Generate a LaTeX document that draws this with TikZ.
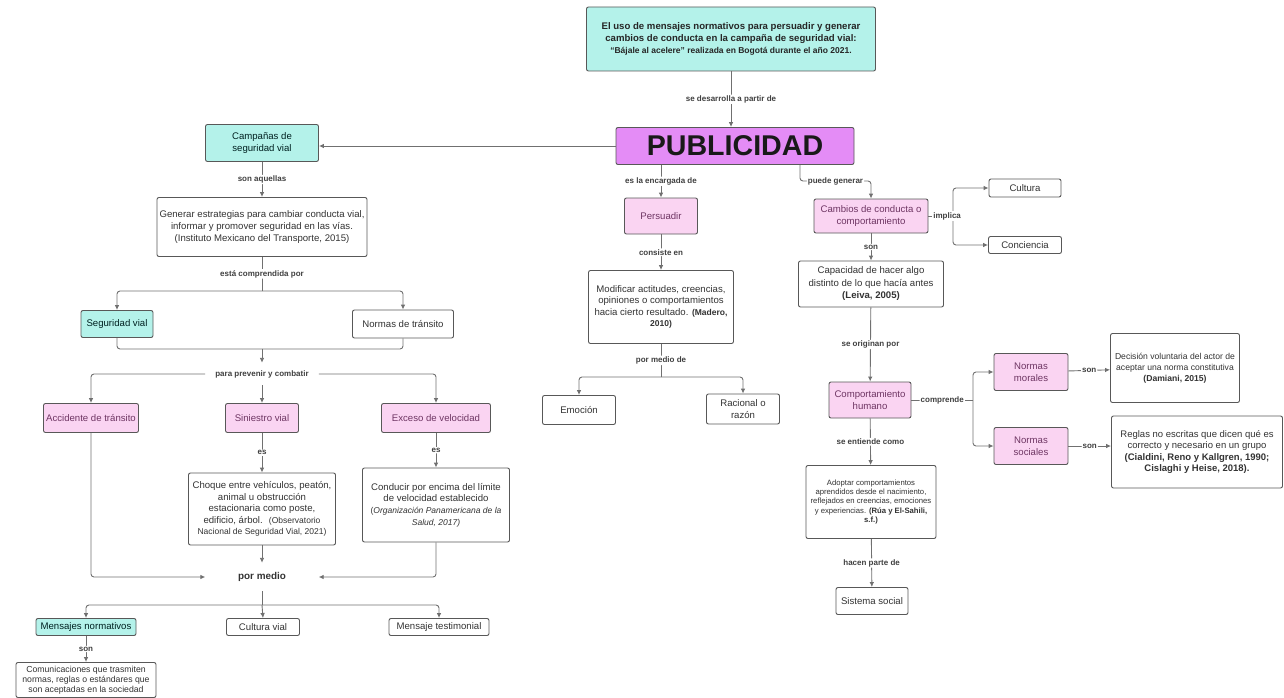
\documentclass[tikz,border=0pt]{standalone}
\usepackage{fontspec}
\setmainfont{Liberation Sans}
\usetikzlibrary{arrows.meta,positioning,calc}
\definecolor{cian}{HTML}{B4F2EA}
\definecolor{rosa}{HTML}{FAD4F2}
\definecolor{lila}{HTML}{E48CF6}
\definecolor{borde}{HTML}{585858}
\definecolor{gris}{HTML}{707070}
\definecolor{texto}{HTML}{333333}
\definecolor{textorosa}{HTML}{6E3563}
\tikzset{
  caja/.style={draw=borde, line width=0.9pt, rounded corners=2pt, fill=white, align=center,
    text=texto, inner sep=2pt, font=\fontsize{9.6}{11.6}\selectfont},
  cajac/.style={caja, fill=cian, text=black!75!teal},
  cajar/.style={caja, fill=rosa, text=textorosa},
  etiq/.style={fill=white, inner sep=1pt, text=black!75, font=\bfseries\fontsize{8}{9}\selectfont},
  flecha/.style={draw=gris, line width=0.9pt, rounded corners=3pt, -{Latex[length=5pt,width=4.6pt]}},
  tramo/.style={draw=gris, line width=0.9pt, rounded corners=3pt}
}
\newcommand{\chico}{\fontsize{8.5}{11.3}\selectfont}

\begin{document}
\begin{tikzpicture}[x=1pt,y=-1pt]
  \useasboundingbox (0,0) rectangle (1284,698);
  % tema y concepto central
  \node[cajac, text=black!85, minimum width=289pt, minimum height=64pt] (tema) at (731,39)
    {\bfseries\fontsize{9.6}{12}\selectfont El uso de mensajes normativos para persuadir y generar\\
     \bfseries\fontsize{9.6}{12}\selectfont cambios de conducta en la campaña de seguridad vial:\\
     \bfseries\fontsize{8.5}{11.5}\selectfont “Bájale al acelere” realizada en Bogotá durante el año 2021.};
  \node[caja, fill=lila, text=black!90, minimum width=238pt, minimum height=37pt,
    font=\bfseries\fontsize{28.6}{30}\selectfont] (pub) at (735,146) {PUBLICIDAD};
  \draw[flecha] (tema.south) -- node[etiq]{se desarrolla a partir de} (tema.south |- pub.north);

  % rama izquierda
  \node[cajac, minimum width=113pt, minimum height=37pt] (camp) at (262,143) {Campañas de\\ seguridad vial};
  \node[caja, minimum width=210pt, minimum height=59pt] (gen) at (262,227)
    {Generar estrategias para cambiar conducta vial,\\ informar y promover seguridad en las vías.\\ (Instituto Mexicano del Transporte, 2015)};
  \node[cajac, minimum width=72pt, minimum height=27pt] (segv) at (117,324) {Seguridad vial};
  \node[caja, minimum width=101pt, minimum height=28pt] (normt) at (403,324) {Normas de tránsito};
  \node[etiq, minimum height=22pt, inner xsep=10pt] (prev) at (262,374) {para prevenir y combatir};
  \node[cajar, minimum width=95pt, minimum height=29pt] (acc) at (91,418) {Accidente de tránsito};
  \node[cajar, minimum width=73pt, minimum height=29pt] (sin) at (262,418) {Siniestro vial};
  \node[cajar, minimum width=109pt, minimum height=29pt] (exc) at (436,418) {Exceso de velocidad};
  \node[caja, minimum width=147pt, minimum height=72pt, inner sep=1pt] (choq) at (262,509)
    {Choque entre vehículos, peatón,\\ animal u obstrucción\\ estacionaria como poste,\\
     edificio, árbol. \ {\chico(Observatorio}\\ {\chico Nacional de Seguridad Vial, 2021)}};
  \node[caja, minimum width=147pt, minimum height=74pt, inner sep=1pt] (cond) at (436,505)
    {Conducir por encima del límite\\ de velocidad establecido\\
     {\chico(\textit{Organización Panamericana de la}}\\ {\chico\textit{Salud, 2017)}}};
  \node[font=\bfseries\fontsize{9.9}{11}\selectfont, text=texto, minimum width=113pt, minimum height=28pt] (pm) at (262,577) {por medio};
  \node[cajac, minimum width=100pt, minimum height=17pt, inner sep=1pt] (mens) at (86,627) {Mensajes normativos};
  \node[caja, minimum width=73pt, minimum height=17pt, inner sep=1pt] (cult) at (263,627) {Cultura vial};
  \node[caja, minimum width=100pt, minimum height=17pt, inner sep=1pt] (test) at (439,627) {Mensaje testimonial};
  \node[caja, minimum width=140pt, minimum height=35pt, inner sep=1pt, font=\fontsize{8.7}{10}\selectfont] (comu) at (86,680)
    {Comunicaciones que trasmiten\\ normas, reglas o estándares que\\ son aceptadas en la sociedad};

  \coordinate (j1) at (262,291);
  \coordinate (j2) at (262,349);
  \coordinate (j3) at (262,605);
  \draw[flecha] (pub.west) -- (pub.west -| camp.east);
  \draw[flecha] (camp) -- node[etiq]{son aquellas} (gen);
  \draw[tramo] (gen.south) -- node[etiq]{está comprendida por} (j1);
  \draw[flecha] (j1) -| (segv.north);
  \draw[flecha] (j1) -| (normt.north);
  \draw[tramo] (segv.south) |- (j2);
  \draw[tramo] (normt.south) |- (j2);
  \draw[flecha] (j2) -- (prev.north);
  \draw[flecha] (prev.west) -| (acc.north);
  \draw[flecha] (prev.south) -- (sin.north);
  \draw[flecha] (prev.east) -| (exc.north);
  \draw[flecha] (sin) -- node[etiq]{es} (choq);
  \draw[flecha] (exc) -- node[etiq]{es} (cond);
  \draw[flecha] (acc.south) |- (pm.west);
  \draw[flecha] (choq.south) -- (pm.north);
  \draw[flecha] (cond.south) |- (pm.east);
  \draw[tramo] (pm.south) -- (j3);
  \draw[flecha] (j3) -| (mens.north);
  \draw[flecha] (j3) -- (cult.north);
  \draw[flecha] (j3) -| (test.north);
  \draw[flecha] (mens) -- node[etiq]{son} (comu);

  % rama central
  \node[cajar, minimum width=73pt, minimum height=36pt] (pers) at (661,216) {Persuadir};
  \node[caja, minimum width=145pt, minimum height=73pt, inner sep=1pt] (modi) at (661,307)
    {Modificar actitudes, creencias,\\ opiniones o comportamientos\\ hacia cierto resultado. \textbf{\chico(Madero,}\\ \textbf{\chico 2010)}};
  \node[caja, minimum width=73pt, minimum height=29pt] (emo) at (579,410) {Emoción};
  \node[caja, minimum width=73pt, minimum height=30pt] (rac) at (743,409) {Racional o\\ razón};
  \coordinate (j4) at (661,377);
  \draw[flecha] (pub.south -| pers.north) -- node[etiq]{es la encargada de} (pers.north);
  \draw[flecha] (pers) -- node[etiq]{consiste en} (modi);
  \draw[tramo] (modi.south) -- node[etiq]{por medio de} (j4);
  \draw[flecha] (j4) -| (emo.north);
  \draw[flecha] (j4) -| (rac.north);

  % rama derecha
  \node[cajar, minimum width=114pt, minimum height=34pt] (camb) at (871,216) {Cambios de conducta o\\ comportamiento};
  \node[caja, minimum width=72pt, minimum height=18pt, inner sep=1pt] (cultura) at (1025,188) {Cultura};
  \node[caja, minimum width=73pt, minimum height=17pt, inner sep=1pt] (conc) at (1025,245) {Conciencia};
  \node[caja, minimum width=145pt, minimum height=46pt, font=\fontsize{9.6}{12.5}\selectfont] (capa) at (871,284)
    {Capacidad de hacer algo\\ distinto de lo que hacía antes\\ \textbf{(Leiva, 2005)}};
  \node[cajar, minimum width=82pt, minimum height=36pt] (comp) at (870,400) {Comportamiento\\ humano};
  \node[cajar, minimum width=74pt, minimum height=37pt] (nmor) at (1031,372) {Normas\\ morales};
  \node[cajar, minimum width=74pt, minimum height=37pt] (nsoc) at (1031,446) {Normas\\ sociales};
  \node[caja, minimum width=129pt, minimum height=69pt, font=\fontsize{8.6}{11}\selectfont] (deci) at (1175,368)
    {Decisión voluntaria del actor de\\ aceptar una norma constitutiva\\ \textbf{(Damiani, 2015)}};
  \node[caja, minimum width=171pt, minimum height=72pt, font=\fontsize{9.5}{11.6}\selectfont] (regl) at (1197,452)
    {Reglas no escritas que dicen qué es\\ correcto y necesario en un grupo\\
     \textbf{(Cialdini, Reno y Kallgren, 1990;}\\ \textbf{Cislaghi y Heise, 2018).}};
  \node[caja, minimum width=130pt, minimum height=73pt, font=\fontsize{7.7}{9.4}\selectfont] (adop) at (871,502)
    {Adoptar comportamientos\\ aprendidos desde el nacimiento,\\ reflejados en creencias, emociones\\
     y experiencias. \textbf{(Rúa y El-Sahili,}\\ \textbf{s.f.)}};
  \node[caja, minimum width=72pt, minimum height=27pt] (sist) at (872,601) {Sistema social};

  \coordinate (pg) at (800,181);
  \coordinate (im) at (953,216);
  \coordinate (co) at (973,400);
  \draw[flecha] (pub.south -| pg) -- (pg) -- node[etiq]{puede generar} (camb.north |- pg) -- (camb.north);
  \draw[tramo] (camb.east) -- (im);
  \draw[flecha] (im) |- (cultura.west);
  \draw[flecha] (im) |- (conc.west);
  \node[etiq] at ($(camb.east)!0.76!(im)$) {implica};
  \draw[flecha] (camb) -- node[etiq]{son} (capa);
  \draw[flecha] (capa) -- node[etiq]{se originan por} (comp);
  \draw[tramo] (comp.east) -- node[etiq]{comprende} (co);
  \draw[flecha] (co) |- (nmor.west);
  \draw[flecha] (co) |- (nsoc.west);
  \draw[flecha] (nmor) -- node[etiq]{son} (deci);
  \draw[flecha] (nsoc.east) -- node[etiq]{son} (nsoc.east -| regl.west);
  \draw[flecha] (comp) -- node[etiq]{se entiende como} (adop);
  \draw[flecha] (adop) -- node[etiq]{hacen parte de} (sist);
\end{tikzpicture}
\end{document}
